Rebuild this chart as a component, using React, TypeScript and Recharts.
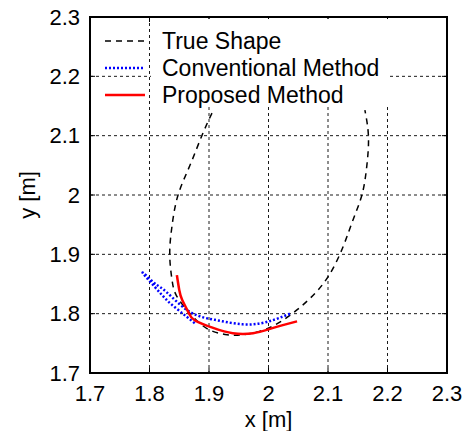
import React from "react";
import {
  CartesianGrid,
  Label,
  Line,
  LineChart,
  ReferenceArea,
  ReferenceLine,
  XAxis,
  YAxis,
} from "recharts";

const xTicks = [1.7, 1.8, 1.9, 2.0, 2.1, 2.2, 2.3];
const yTicks = [1.7, 1.8, 1.9, 2.0, 2.1, 2.2, 2.3];

const trueShape = [
  { x: 1.905, y: 2.138 },
  { x: 1.888, y: 2.1 },
  { x: 1.868, y: 2.05 },
  { x: 1.848, y: 2.0 },
  { x: 1.838, y: 1.949 },
  { x: 1.834, y: 1.9 },
  { x: 1.838, y: 1.856 },
  { x: 1.845, y: 1.831 },
  { x: 1.863, y: 1.806 },
  { x: 1.882, y: 1.786 },
  { x: 1.902, y: 1.772 },
  { x: 1.927, y: 1.765 },
  { x: 1.952, y: 1.764 },
  { x: 1.981, y: 1.769 },
  { x: 2.011, y: 1.781 },
  { x: 2.041, y: 1.801 },
  { x: 2.07, y: 1.826 },
  { x: 2.1, y: 1.862 },
  { x: 2.125, y: 1.912 },
  { x: 2.142, y: 1.958 },
  { x: 2.157, y: 2.0 },
  { x: 2.165, y: 2.047 },
  { x: 2.168, y: 2.098 },
  { x: 2.162, y: 2.143 },
];

const conventional = [
  { x: 1.876, y: 1.784 },
  { x: 1.851, y: 1.804 },
  { x: 1.829, y: 1.823 },
  { x: 1.809, y: 1.845 },
  { x: 1.789, y: 1.868 },
  { x: 1.796, y: 1.863 },
  { x: 1.81, y: 1.85 },
  { x: 1.829, y: 1.836 },
  { x: 1.868, y: 1.803 },
  { x: 1.913, y: 1.789 },
  { x: 1.957, y: 1.782 },
  { x: 1.997, y: 1.786 },
  { x: 2.039, y: 1.801 },
];

const proposed = [
  { x: 1.846, y: 1.865 },
  { x: 1.85, y: 1.84 },
  { x: 1.855, y: 1.823 },
  { x: 1.865, y: 1.803 },
  { x: 1.876, y: 1.789 },
  { x: 1.907, y: 1.776 },
  { x: 1.94, y: 1.767 },
  { x: 1.974, y: 1.767 },
  { x: 2.008, y: 1.776 },
  { x: 2.048, y: 1.787 },
];

const legendItems = [
  { name: "True Shape", color: "#000", dash: "6 5", width: 1.5 },
  { name: "Conventional Method", color: "#0000ff", dash: "2 2", width: 2.5 },
  { name: "Proposed Method", color: "#ff0000", dash: undefined, width: 2.5 },
];

const FONT = "'Liberation Sans', Arial, sans-serif";
const TICK_LEN = 0.0085;

export default function App() {
  return (
    <div style={{ position: "absolute", left: 0, top: 0, width: 470, height: 431, overflow: "hidden", background: "#fff" }}>
      <div
        style={{
          position: "absolute",
          left: 113,
          top: -29,
          width: 262,
          textAlign: "center",
          fontFamily: "'Noto Sans CJK JP', sans-serif",
          fontSize: 24,
          lineHeight: "28px",
          whiteSpace: "nowrap",
        }}
      >
        図 推定された形状の比較
      </div>
      <LineChart
        width={470}
        height={431}
        margin={{ top: 17, right: 23, bottom: 0, left: 0 }}
        style={{ fontFamily: FONT }}
      >
        <CartesianGrid stroke="#000" strokeDasharray="3 3" strokeWidth={0.9} />
        <XAxis
          type="number"
          dataKey="x"
          domain={[1.7, 2.3]}
          ticks={xTicks}
          height={58}
          tickLine={false}
          axisLine={false}
          tickMargin={6}
          tick={{ fill: "#000", fontSize: 22 }}
          tickFormatter={(v) => String(v)}
        >
          <Label value="x [m]" position="insideBottom" offset={4} fill="#000" fontSize={22} />
        </XAxis>
        <YAxis
          type="number"
          dataKey="y"
          domain={[1.7, 2.3]}
          ticks={yTicks}
          width={90}
          tickLine={false}
          axisLine={false}
          tickMargin={4}
          tick={{ fill: "#000", fontSize: 22 }}
          tickFormatter={(v) => String(v)}
        >
          <Label
            content={() => (
              <text
                x={27}
                y={195}
                transform="rotate(-90 27 195)"
                textAnchor="middle"
                dominantBaseline="central"
                fill="#000"
                fontSize={22}
              >
                y [m]
              </text>
            )}
          />
        </YAxis>
        {xTicks.slice(1, -1).map((t) => (
          <ReferenceLine key={"xb" + t} segment={[{ x: t, y: 1.7 }, { x: t, y: 1.7 + TICK_LEN }]} stroke="#000" />
        ))}
        {xTicks.slice(1, -1).map((t) => (
          <ReferenceLine key={"xt" + t} segment={[{ x: t, y: 2.3 }, { x: t, y: 2.3 - TICK_LEN }]} stroke="#000" />
        ))}
        {yTicks.slice(1, -1).map((t) => (
          <ReferenceLine key={"yl" + t} segment={[{ x: 1.7, y: t }, { x: 1.7 + TICK_LEN, y: t }]} stroke="#000" />
        ))}
        {yTicks.slice(1, -1).map((t) => (
          <ReferenceLine key={"yr" + t} segment={[{ x: 2.3, y: t }, { x: 2.3 - TICK_LEN, y: t }]} stroke="#000" />
        ))}
        <Line
          data={trueShape}
          dataKey="y"
          type="natural"
          stroke="#000"
          strokeWidth={1.5}
          strokeDasharray="6 5"
          dot={false}
          activeDot={false}
          isAnimationActive={false}
        />
        <Line
          data={conventional}
          dataKey="y"
          type="natural"
          stroke="#0000ff"
          strokeWidth={2.5}
          strokeDasharray="2 2"
          dot={false}
          activeDot={false}
          isAnimationActive={false}
        />
        <Line
          data={proposed}
          dataKey="y"
          type="natural"
          stroke="#ff0000"
          strokeWidth={2.5}
          dot={false}
          activeDot={false}
          isAnimationActive={false}
        />
        <ReferenceArea x1={1.7} x2={2.3} y1={1.7} y2={2.3} fill="none" stroke="#000" strokeWidth={2} />
      </LineChart>
      <div style={{ position: "absolute", left: 151, top: 19, width: 237, height: 88, background: "#fff" }} />
      {legendItems.map((item, i) => (
        <div
          key={item.name}
          style={{ position: "absolute", left: 100, top: 28 + i * 27, height: 26, display: "flex", alignItems: "center" }}
        >
          <svg width={50} height={26}>
            <line
              x1={5}
              x2={45}
              y1={13}
              y2={13}
              stroke={item.color}
              strokeWidth={item.width}
              strokeDasharray={item.dash}
            />
          </svg>
          <span style={{ marginLeft: 12, fontFamily: FONT, fontSize: 23, color: "#000", whiteSpace: "nowrap" }}>
            {item.name}
          </span>
        </div>
      ))}
    </div>
  );
}
